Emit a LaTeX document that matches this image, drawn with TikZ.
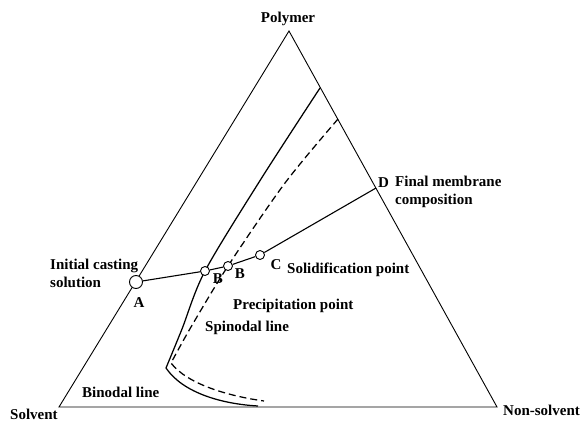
\documentclass[tikz,border=0pt]{standalone}
\usepackage{fontspec}
\setmainfont{Liberation Serif}
\usetikzlibrary{backgrounds}
\tikzset{
  lbl/.style={font=\fontsize{15}{18}\selectfont\bfseries, inner sep=0pt},
  pnt/.style={circle, draw, fill=white, line width=0.9pt, inner sep=0pt, minimum size=9pt},
  curve/.style={line width=1.25pt, smooth, tension=0.5},
}
\begin{document}
\begin{tikzpicture}[x=1pt,y=-1pt]
    \useasboundingbox (0,0) rectangle (582,425);
    \coordinate (P) at (289,31);
    \coordinate (S) at (59,407);
    \coordinate (N) at (497,407);
    \draw[line width=0.9pt] (S) -- (P) -- (N) -- cycle;
    \node[pnt, minimum size=13pt] (A) at (136,282) {};
    \node[pnt] (B1) at (205,271) {};
    \node[pnt] (B2) at (228,266) {};
    \node[pnt] (C) at (260,255) {};
    \coordinate (D) at (376,188);
    \draw[line width=1.1pt] (A) -- (B1) -- (B2) -- (C) -- (D);
    \begin{scope}[on background layer]
        \draw[curve] plot coordinates {(320,88) (261,179) (B1.center) (182,329) (166,368)}
            .. controls (183,393) and (222,404) .. (258,406);
        \draw[curve, dash pattern=on 7pt off 4pt] plot coordinates {(338,119) (285,183) (B2.center) (191,327) (171,363)}
            .. controls (187,384) and (228,396) .. (264,401);
    \end{scope}
    \node[lbl, anchor=base] (polymer) at (288,23) {Polymer};
    \node[lbl, anchor=base west] (solvent) at (10,420) {Solvent};
    \node[lbl, anchor=base west] (nonsolvent) at (503,415) {Non-solvent};
    \node[lbl, anchor=west, align=left] (init) at (50,273) {Initial casting\\solution};
    \node[lbl, anchor=base] (lA) at (139,308) {A};
    \node[lbl, anchor=base] (lB1) at (218,284) {B};
    \node[lbl, anchor=base] (lB2) at (240,279) {B};
    \node[lbl, anchor=base] (lC) at (276,270) {C};
    \node[lbl, anchor=base west] (lD) at (378,188) {D};
    \node[lbl, anchor=west, align=left] (final) at (395,192) {Final membrane\\composition};
    \node[lbl, anchor=base west] (solid) at (287,274) {Solidification point};
    \node[lbl, anchor=base west] (precip) at (233,309) {Precipitation point};
    \node[lbl, anchor=base west] (spin) at (205,332) {Spinodal line};
    \node[lbl, anchor=base west] (bin) at (82,397) {Binodal line};
\end{tikzpicture}
\end{document}
